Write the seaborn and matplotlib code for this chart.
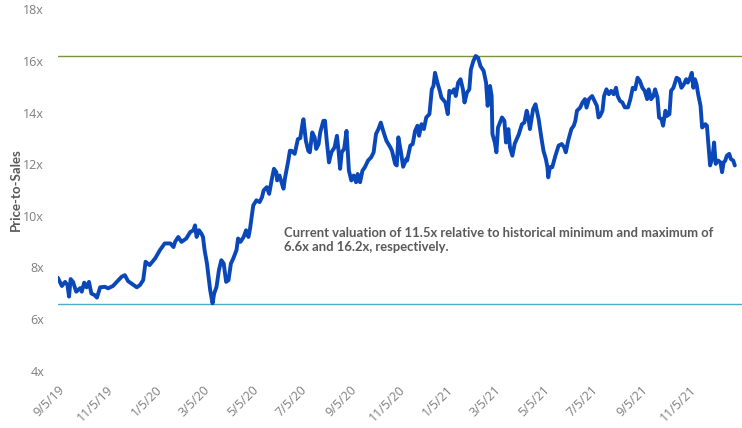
import matplotlib
matplotlib.use("Agg")
import matplotlib.pyplot as plt
import pandas as pd
import seaborn as sns

# Price-to-sales series (days after 9/5/2019, multiple)
start_date = "2019-09-05"
day_offset = [
    0, 5, 9, 12, 14, 16, 19, 23, 28, 30, 33, 36, 39, 42, 46, 49, 53, 59, 63, 69,
    76, 80, 84, 88, 94, 99, 103, 107, 110, 115, 122, 128, 134, 141, 145, 147, 151,
    155, 161, 166, 170, 172, 174, 177, 180, 182, 184, 187, 189, 191, 194, 196, 199,
    202, 205, 208, 211, 214, 217, 220, 224, 226, 229, 233, 236, 239, 241, 243, 245,
    249, 253, 256, 258, 262, 265, 268, 271, 274, 275, 278, 281, 283, 285, 289, 291,
    293, 297, 301, 304, 307, 308, 311, 314, 316, 319, 322, 324, 327, 329, 333, 335,
    337, 340, 343, 347, 350, 352, 354, 356, 359, 362, 363, 365, 368, 371, 374, 376,
    379, 382, 385, 389, 393, 396, 399, 402, 405, 408, 412, 417, 419, 423, 425, 427,
    430, 433, 437, 438, 442, 445, 448, 451, 453, 456, 459, 462, 466, 469, 471, 473,
    476, 479, 481, 486, 489, 491, 494, 497, 499, 502, 505, 508, 510, 513, 516, 518,
    521, 524, 527, 530, 534, 537, 539, 542, 544, 545, 548, 550, 552, 557, 560, 562,
    565, 567, 570, 573, 578, 582, 585, 588, 590, 592, 594, 596, 599, 603, 606, 609,
    612, 614, 615, 617, 620, 624, 628, 632, 635, 637, 640, 644, 647, 649, 651, 655,
    658, 661, 663, 666, 670, 673, 676, 678, 680, 683, 685, 688, 691, 694, 697, 700,
    702, 705, 708, 711, 715, 718, 721, 724, 727, 730, 733, 736, 739, 741, 744, 747,
    749, 752, 754, 757, 759, 762, 764, 767, 769, 772, 776, 779, 782, 785, 788, 790,
    793, 795, 797, 799, 801, 803, 806, 808, 812, 814, 816, 818, 821, 823, 825, 828,
    831, 833, 835, 837, 839, 842, 844, 847, 849,
]
price_to_sales = [
    7.60, 7.28, 7.44, 7.32, 6.87, 7.55, 7.44, 7.06, 7.20, 7.06, 7.41, 7.23, 7.44,
    6.99, 6.93, 6.83, 7.23, 7.25, 7.19, 7.28, 7.51, 7.64, 7.70, 7.47, 7.34, 7.23,
    7.32, 7.51, 8.22, 8.09, 8.35, 8.67, 8.93, 8.93, 8.79, 8.99, 9.18, 8.99, 9.12,
    9.37, 9.44, 9.63, 9.18, 9.44, 9.31, 9.18, 8.67, 8.15, 7.64, 7.12, 6.61, 6.99,
    7.25, 7.90, 8.28, 8.15, 7.44, 7.51, 8.15, 8.35, 8.67, 9.12, 8.99, 9.18, 9.44,
    9.18, 9.50, 9.95, 10.40, 10.60, 10.53, 10.72, 10.98, 11.11, 10.85, 11.37, 11.82,
    11.69, 11.37, 11.56, 11.24, 11.05, 11.49, 12.14, 12.52, 12.52, 12.40, 12.97,
    13.01, 13.61, 13.74, 12.91, 12.52, 12.46, 13.23, 13.04, 12.59, 12.78, 13.23,
    13.68, 13.68, 12.97, 12.07, 12.46, 12.65, 13.10, 12.52, 11.82, 12.46, 12.59,
    13.29, 12.78, 11.75, 11.37, 11.56, 11.30, 11.62, 11.30, 11.75, 11.88, 12.14,
    12.27, 12.46, 13.17, 13.36, 13.61, 13.29, 12.91, 12.65, 12.52, 12.01, 11.95,
    13.04, 12.52, 11.90, 12.20, 12.14, 12.72, 12.78, 13.29, 13.49, 13.10, 13.55,
    13.36, 13.81, 13.94, 14.90, 15.03, 15.54, 15.16, 14.84, 14.58, 14.39, 13.94,
    14.84, 14.77, 14.90, 14.64, 15.16, 15.29, 14.90, 14.39, 14.77, 14.90, 15.67,
    15.99, 16.19, 16.12, 15.80, 15.61, 15.16, 14.26, 15.03, 14.64, 13.17, 12.84,
    12.46, 13.42, 13.81, 13.68, 12.84, 13.36, 12.65, 12.33, 12.80, 13.15, 13.55,
    13.61, 14.07, 13.81, 13.36, 13.74, 14.13, 14.32, 13.74, 13.10, 12.52, 12.20,
    11.88, 11.49, 11.88, 11.88, 12.33, 12.72, 12.78, 12.65, 12.46, 12.91, 13.36,
    13.49, 13.68, 14.07, 14.19, 14.39, 14.52, 14.19, 14.52, 14.64, 14.45, 14.26,
    13.81, 13.87, 14.07, 14.64, 14.90, 14.71, 14.84, 14.71, 14.96, 14.64, 14.45,
    14.39, 14.20, 14.20, 14.52, 14.96, 14.90, 15.35, 15.22, 14.96, 14.84, 14.52,
    14.90, 14.52, 14.64, 14.90, 14.58, 13.81, 13.74, 13.49, 14.07, 13.87, 13.94,
    14.84, 14.96, 15.35, 15.29, 14.96, 15.09, 15.29, 15.16, 15.35, 15.54, 14.96,
    15.29, 15.09, 14.71, 14.26, 13.42, 13.55, 13.49, 12.72, 11.95, 12.27, 12.84,
    12.01, 12.14, 12.07, 11.69, 12.07, 12.14, 12.33, 12.40, 12.20, 12.14, 11.95,
]
hist_min = 6.6
hist_max = 16.2
tick_dates = pd.date_range(start_date, periods=14, freq=pd.DateOffset(months=2))
y_ticks = [4, 6, 8, 10, 12, 14, 16, 18]
note = ("Current valuation of 11.5x relative to historical minimum and maximum of\n"
        "6.6x and 16.2x, respectively.")

df = pd.DataFrame({
    "Date": pd.to_datetime(start_date) + pd.to_timedelta(day_offset, unit="D"),
    "PS": price_to_sales,
})

sns.set_style("white")
plt.rcParams["font.family"] = ["Open Sans", "DejaVu Sans"]

fig = plt.figure(figsize=(7.42, 4.28), dpi=100)
ax = fig.add_axes([0.078, 0.1339, 0.922, 0.8444])

ax.axhline(hist_max, color="#77933C", linewidth=1.0, zorder=1)
ax.axhline(hist_min, color="#4BACC6", linewidth=1.0, zorder=1)
sns.lineplot(data=df, x="Date", y="PS", color="#0A47B8", linewidth=2.8, ax=ax, zorder=3)

ax.set_ylim(4, 18)
ax.set_xlim(pd.Timestamp(start_date), pd.Timestamp(start_date) + pd.Timedelta(days=858))
ax.set_yticks(y_ticks)
ax.set_yticklabels([f"{v}x" for v in y_ticks])
ax.set_xticks(tick_dates)
ax.set_xticklabels([f"{d.month}/{d.day}/{d.strftime('%y')}" for d in tick_dates],
                   rotation=45, ha="right", rotation_mode="anchor")
ax.tick_params(axis="both", length=0, colors="#7F7F7F", labelsize=9)
ax.tick_params(axis="y", pad=10)
ax.tick_params(axis="x", pad=9)
ax.set_xlabel(None)
ax.set_ylabel("Price-to-Sales", fontsize=9.5, fontweight="bold", color="#595959",
              family=["Lato", "DejaVu Sans"])
ax.yaxis.set_label_coords(-0.052, 0.5)
for s in ax.spines.values():
    s.set_visible(False)

ax.text(pd.Timestamp(start_date) + pd.Timedelta(days=283), 9.55, note,
        fontsize=9.4, fontweight="bold", color="#595959",
        family=["Lato", "DejaVu Sans"], va="top", ha="left", linespacing=1.2)

fig.savefig("out.png", dpi=100)
